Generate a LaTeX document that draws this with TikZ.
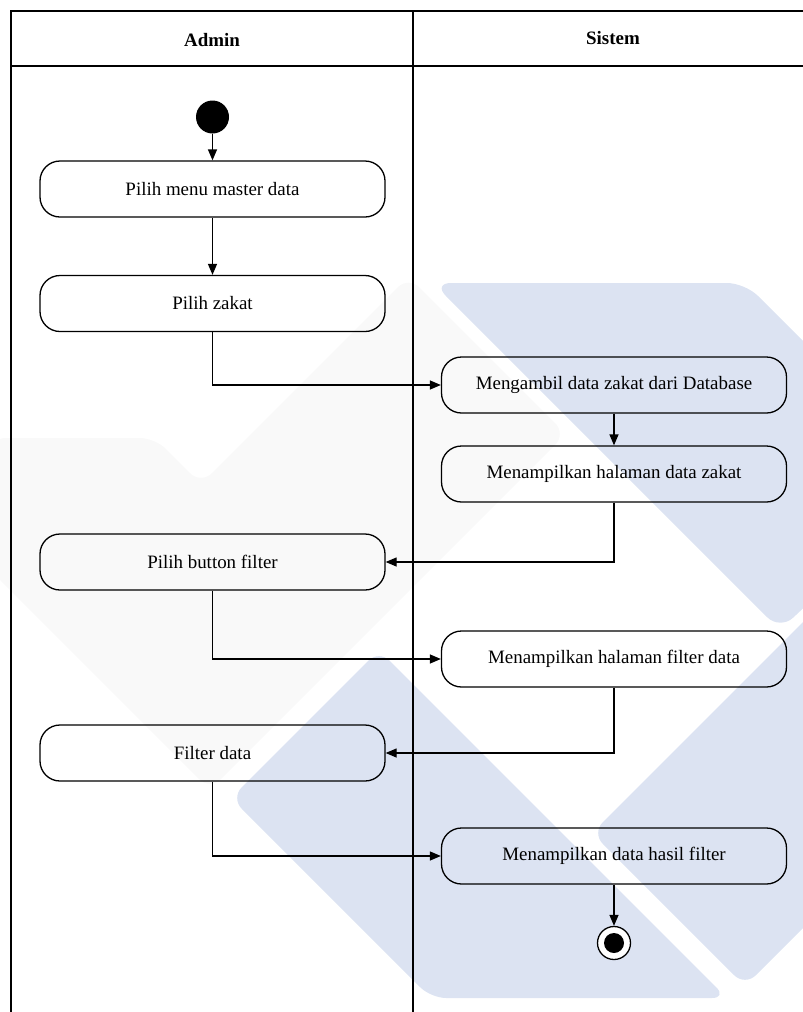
\documentclass[tikz,border=0pt]{standalone}
\usepackage{fontspec}
\setmainfont{Liberation Serif}
\usetikzlibrary{arrows.meta}
\definecolor{wmblue}{RGB}{220,227,242}
\definecolor{wmgray}{RGB}{249,249,249}
\begin{document}
\begin{tikzpicture}[x=1bp,y=-1bp,
  act/.style={draw, line width=1.3bp, rounded corners=20bp, minimum width=345bp, minimum height=56bp, inner sep=0pt, font=\fontsize{19}{22}\selectfont},
  flow/.style={line width=1.3bp, -{Triangle[length=11bp,width=9bp]}},
  lane/.style={line width=1.8bp},
  hdr/.style={font=\fontsize{19}{22}\selectfont\bfseries},
  startnode/.style={circle, fill=black, minimum size=33bp, inner sep=0pt},
  endring/.style={circle, draw, line width=1.3bp, fill=white, minimum size=33bp, inner sep=0pt},
  enddot/.style={circle, fill=black, minimum size=20bp, inner sep=0pt}]
\useasboundingbox (0,0) rectangle (803,1012);
% watermark
\begin{scope}
\clip (0,0) rectangle (803,1012);
\fill[wmgray, rounded corners=15bp] (-10,438) -- (155,438) -- (201,484) -- (408.5,276.5) -- (566,434) -- (210,790) -- (-10,570) -- cycle;
\fill[wmblue, rounded corners=18bp] (433,283) -- (745,283) -- (941,479) -- (780,630) -- cycle;
\fill[wmblue, rounded corners=15bp] (592,833) -- (950,475) -- (1100,631) -- (745,986) -- cycle;
\fill[wmblue, rounded corners=15bp] (379,650) -- (727,998) -- (431,998) -- (231,798) -- cycle;
\end{scope}
% swimlanes
\draw[lane] (11,1014) -- (11,11) -- (805,11);
\draw[lane] (11,66) -- (805,66);
\draw[lane] (413,11) -- (413,1014);
\node[hdr] (hA) at (212,40) {Admin};
\node[hdr] (hS) at (613,38) {Sistem};
% nodes
\node[startnode] (start) at (212.5,117) {};
\node[act] (a1) at (212.5,189) {Pilih menu master data};
\node[act] (a2) at (212.5,303.5) {Pilih zakat};
\node[act] (s1) at (614,385) {Mengambil data zakat dari Database};
\node[act] (s2) at (614,474) {Menampilkan halaman data zakat};
\node[act] (a3) at (212.5,562) {Pilih button filter};
\node[act] (s3) at (614,659) {Menampilkan halaman filter data};
\node[act] (a4) at (212.5,753) {Filter data};
\node[act] (s4) at (614,856) {Menampilkan data hasil filter};
\node[endring] (end) at (614,943) {};
\node[enddot] (enddot) at (end) {};
% connectors
\draw[flow] (start) -- (a1);
\draw[flow] (a1) -- (a2);
\draw[flow] (a2.south) |- (s1.west);
\draw[flow] (s1) -- (s2);
\draw[flow] (s2.south) |- (a3.east);
\draw[flow] (a3.south) |- (s3.west);
\draw[flow] (s3.south) |- (a4.east);
\draw[flow] (a4.south) |- (s4.west);
\draw[flow] (s4) -- (end);
\end{tikzpicture}
\end{document}
